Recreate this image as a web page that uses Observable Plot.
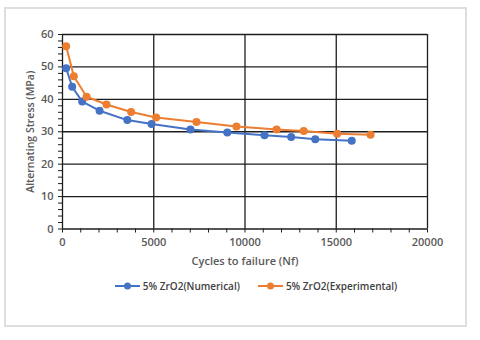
<!DOCTYPE html>
<html>
<head>
<meta charset="utf-8">
<script src="https://cdn.jsdelivr.net/npm/d3@7"></script>
<script src="https://cdn.jsdelivr.net/npm/@observablehq/plot@0.6"></script>
<style>
  html, body { margin: 0; padding: 0; background: #fff; width: 480px; height: 340px; overflow: hidden; }
  #card { position: absolute; left: 4px; top: 7px; width: 459px; height: 316px; border: 2px solid #dedede; }
  #chart { position: absolute; left: 0; top: 0; }
  #legend { position: absolute; left: 16px; top: 279px; width: 480px; display: flex; justify-content: center; gap: 18px;
            font-family: "Open Sans", sans-serif; font-size: 10px; color: #404040; font-weight: 600; }
  .item { display: flex; align-items: center; gap: 3px; }
</style>
</head>
<body>
<div id="card"></div>
<div id="chart"></div>
<div id="legend"></div>
<script>
const seriesNames = ["5% ZrO2(Numerical)", "5% ZrO2(Experimental)"];
const seriesColors = ["#4472C4", "#ED7D31"];
const cyclesNum = [200, 530, 1080, 2030, 3550, 4880, 7010, 9030, 11070, 12530, 13850, 15850];
const stressNum = [49.6, 43.9, 39.3, 36.5, 33.6, 32.4, 30.7, 29.8, 28.9, 28.4, 27.7, 27.2];
const cyclesExp = [200, 620, 1320, 2410, 3760, 5130, 7340, 9530, 11730, 13220, 15050, 16880];
const stressExp = [56.4, 47.1, 40.8, 38.4, 36.1, 34.4, 33.0, 31.6, 30.7, 30.2, 29.4, 29.1];
const xMajor = [0, 5000, 10000, 15000, 20000];
const yMajor = [0, 10, 20, 30, 40, 50, 60];

const data = [
  ...cyclesNum.map((c, i) => ({series: seriesNames[0], x: c, y: stressNum[i]})),
  ...cyclesExp.map((c, i) => ({series: seriesNames[1], x: c, y: stressExp[i]}))
];

const gridColor = "#1e1e1e";
const chart = Plot.plot({
  width: 480,
  height: 275,
  marginLeft: 62,
  marginRight: 53,
  marginTop: 34,
  marginBottom: 46.5,
  style: {fontFamily: "'Open Sans', sans-serif", fontSize: "11px", color: "#595959", fontWeight: 600, background: "transparent"},
  x: {domain: [0, 20000]},
  y: {domain: [0, 60]},
  color: {domain: seriesNames, range: seriesColors},
  marks: [
    Plot.gridX(xMajor.slice(1), {stroke: gridColor, strokeOpacity: 1, strokeWidth: 1.3}),
    Plot.gridY(yMajor.slice(1), {stroke: gridColor, strokeOpacity: 1, strokeWidth: 1.3}),
    Plot.ruleX([0], {stroke: gridColor, strokeWidth: 1.3}),
    Plot.ruleY([0], {stroke: gridColor, strokeWidth: 1.3}),
    Plot.axisX(d3.range(0, 20001, 1000), {tickSize: 4, tickFormat: () => "", stroke: gridColor, label: null}),
    Plot.axisY(d3.range(0, 61, 2), {tickSize: 4, tickFormat: () => "", stroke: gridColor, label: null}),
    Plot.axisX(xMajor, {tickSize: 0, tickPadding: 9, tickFormat: d => String(d), fill: "#595959",
      label: "Cycles to failure (Nf)", labelAnchor: "center", labelArrow: "none", labelOffset: 36}),
    Plot.axisY(yMajor, {tickSize: 0, tickPadding: 9, tickFormat: d => String(d), fill: "#595959", label: null}),
    Plot.axisY([], {tickSize: 0, fill: "#595959", fontSize: 10.5,
      label: "Alternating Stress (MPa)", labelAnchor: "center", labelArrow: "none", labelOffset: 36}),
    Plot.line(data, {x: "x", y: "y", stroke: "series", strokeWidth: 2}),
    Plot.dot(data, {x: "x", y: "y", fill: "series", r: 4})
  ]
});
document.getElementById("chart").appendChild(chart);

const legend = document.getElementById("legend");
seriesNames.forEach((name, i) => {
  const item = document.createElement("div");
  item.className = "item";
  item.innerHTML = `<svg width="25" height="10"><line x1="0" y1="5" x2="25" y2="5" stroke="${seriesColors[i]}" stroke-width="2"/><circle cx="12.5" cy="5" r="3.5" fill="${seriesColors[i]}"/></svg><span>${name}</span>`;
  legend.appendChild(item);
});
</script>
</body>
</html>
